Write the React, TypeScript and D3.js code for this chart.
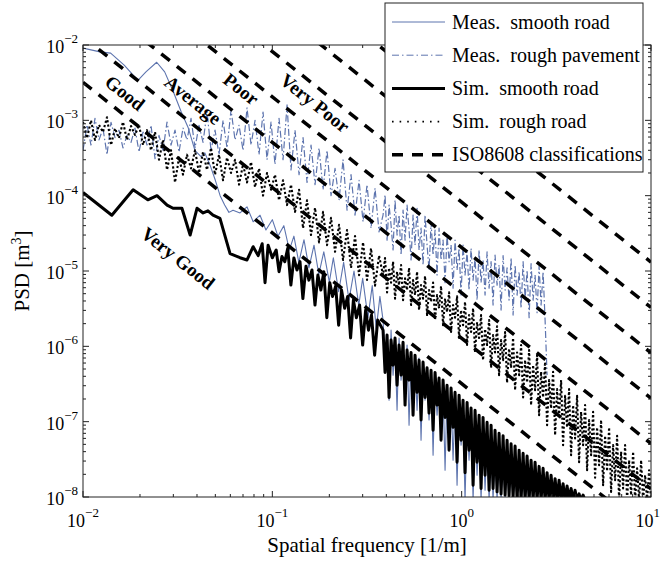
import React from 'react';
import * as d3 from 'd3';

// ---------- data ----------
const xDomain: [number, number] = [0.01, 10];
const yDomain: [number, number] = [1e-8, 1e-2];
const xTickExps = [-2, -1, 0, 1];
const yTickExps = [-8, -7, -6, -5, -4, -3, -2];

// spatial-frequency grid (1/m), low range 0.01 .. 0.37
const lowGridFreq = [
  0.01, 0.0105, 0.01102, 0.01157, 0.01215, 0.01275, 0.01339, 0.01406, 0.01476, 0.01549,
  0.01626, 0.01708, 0.01793, 0.01882, 0.01976, 0.02075, 0.02178, 0.02287, 0.02401, 0.0252,
  0.02646, 0.02778, 0.02917, 0.03062, 0.03215, 0.03375, 0.03543, 0.0372, 0.03906, 0.041,
  0.04305, 0.04519, 0.04745, 0.04981, 0.0523, 0.05491, 0.05764, 0.06052, 0.06353, 0.0667,
  0.07003, 0.07352, 0.07718, 0.08103, 0.08507, 0.08931, 0.09376, 0.09844, 0.1033, 0.1085,
  0.1139, 0.1196, 0.1255, 0.1318, 0.1384, 0.1453, 0.1525, 0.1601, 0.1681, 0.1765,
  0.1853, 0.1945, 0.2042, 0.2144, 0.2251, 0.2363, 0.2481, 0.2604, 0.2734, 0.2871,
  0.3014, 0.3164, 0.3322, 0.3487, 0.3661,
];
// spatial-frequency grid (1/m), high range 0.38 .. 10
const highGridFreq = [
  0.3844, 0.3939, 0.4036, 0.4136, 0.4237, 0.4342, 0.4448, 0.4558, 0.467, 0.4785,
  0.4903, 0.5024, 0.5147, 0.5274, 0.5404, 0.5537, 0.5673, 0.5813, 0.5956, 0.6102,
  0.6253, 0.6407, 0.6565, 0.6726, 0.6892, 0.7063, 0.7235, 0.7414, 0.7596, 0.7783,
  0.7975, 0.8172, 0.8372, 0.858, 0.879, 0.9007, 0.9228, 0.9456, 0.9689, 0.9929,
  1.017, 1.042, 1.068, 1.094, 1.121, 1.149, 1.177, 1.206, 1.236, 1.266,
  1.297, 1.329, 1.362, 1.396, 1.43, 1.465, 1.501, 1.538, 1.576, 1.615,
  1.655, 1.696, 1.737, 1.78, 1.824, 1.869, 1.915, 1.962, 2.011, 2.06,
  2.111, 2.163, 2.216, 2.271, 2.326, 2.384, 2.442, 2.502, 2.564, 2.627,
  2.692, 2.758, 2.826, 2.895, 2.967, 3.04, 3.115, 3.192, 3.27, 3.351,
  3.433, 3.518, 3.604, 3.693, 3.784, 3.877, 3.972, 4.07, 4.17, 4.273,
  4.378, 4.486, 4.597, 4.71, 4.826, 4.945, 5.067, 5.191, 5.319, 5.45,
  5.585, 5.722, 5.863, 6.007, 6.155, 6.307, 6.462, 6.622, 6.784, 6.951,
  7.123, 7.298, 7.478, 7.662, 7.851, 8.044, 8.242, 8.445, 8.653, 8.866,
  9.085, 9.309, 9.539, 9.772, 10.0,
];

// Meas. rough pavement
const measRoughLowPsd = [
  4.0e-4, 8.7e-4, 4.7e-4, 1.06e-3, 5.5e-4, 7.8e-4, 3.5e-4, 9.4e-4, 5.9e-4, 7.4e-4,
  4.3e-4, 6.3e-4, 5.1e-4, 7.9e-4, 3.8e-4, 7.0e-4, 4.7e-4, 8.6e-4, 3.1e-4, 6.3e-4,
  4.0e-4, 9.5e-4, 4.7e-4, 7.4e-4, 3.8e-4, 7.9e-4, 5.5e-4, 1.06e-3, 4.3e-4, 8.6e-4,
  5.1e-4, 1.29e-3, 4.0e-4, 7.4e-4, 3.5e-4, 1.0e-3, 4.3e-4, 1.37e-3, 5.5e-4, 8.6e-4,
  4.0e-4, 1.46e-3, 4.7e-4, 1.0e-3, 3.5e-4, 1.29e-3, 3.0e-4, 9.5e-4, 2.6e-4, 1.06e-3,
  3.0e-4, 1.6e-3, 2.2e-4, 7.4e-4, 1.9e-4, 5.9e-4, 1.5e-4, 4.7e-4, 1.4e-4, 4.3e-4,
  1.2e-4, 4.0e-4, 1.0e-4, 2.3e-4, 8.7e-5, 3.0e-4, 6.4e-5, 1.9e-4, 5.5e-5, 1.6e-4,
  4.5e-5, 1.4e-4, 3.7e-5, 1.26e-4, 3.3e-5,
];
const measRoughHighPsd = [
  5.53e-5, 1.02e-4, 2.57e-5, 7.5e-5, 4.07e-5, 1.9e-5, 8.74e-5, 3.0e-5, 5.53e-5, 1.63e-5,
  6.44e-5, 2.57e-5, 7.5e-5, 3.49e-5, 1.4e-5, 5.53e-5, 2.21e-5, 6.8e-5, 1.9e-5, 3.7e-5,
  1.2e-5, 5.53e-5, 2.21e-5, 1.03e-5, 4.4e-5, 1.63e-5, 3.49e-5, 8.83e-6, 3.7e-5, 1.4e-5,
  2.57e-5, 7.0e-6, 3.0e-5, 1.33e-5, 2.21e-5, 5.9e-6, 2.57e-5, 1.03e-5, 2.0e-5, 4.79e-6,
  2.21e-5, 8.83e-6, 1.8e-5, 5.58e-6, 2.0e-5, 7.57e-6, 1.5e-5, 4.11e-6, 1.9e-5, 7.0e-6,
  1.4e-5, 4.79e-6, 1.8e-5, 5.9e-6, 1.33e-5, 3.53e-6, 1.63e-5, 6.5e-6, 1.2e-5, 3.03e-6,
  1.6e-5, 5.58e-6, 1.1e-5, 4.11e-6, 1.5e-5, 2.6e-6, 1.2e-5, 4.79e-6, 9.8e-6, 3.2e-6,
  1.33e-5, 4.3e-6, 1.03e-5, 2.4e-6, 1.25e-5, 4.11e-6, 8.83e-6, 2.8e-6, 1.16e-5, 3.53e-6,
  9.8e-6, 2.23e-6, 4.15e-7,
];

// Sim. rough road
const simRoughLowPsd = [
  9.5e-4, 5.8e-4, 1.0e-3, 5.5e-4, 8.7e-4, 7.0e-4, 1.1e-3, 4.7e-4, 7.8e-4, 5.8e-4,
  9.5e-4, 5.5e-4, 8.4e-4, 6.4e-4, 8.7e-4, 4.7e-4, 7.4e-4, 4.0e-4, 7.0e-4, 3.0e-4,
  5.5e-4, 2.2e-4, 4.0e-4, 1.5e-4, 3.2e-4, 1.9e-4, 3.5e-4, 2.3e-4, 4.0e-4, 2.0e-4,
  3.8e-4, 2.2e-4, 4.3e-4, 1.9e-4, 3.5e-4, 1.6e-4, 3.2e-4, 2.0e-4, 3.0e-4, 1.4e-4,
  2.6e-4, 1.5e-4, 2.8e-4, 1.3e-4, 2.3e-4, 1.0e-4, 2.0e-4, 1.2e-4, 1.9e-4, 8.7e-5,
  1.6e-4, 7.5e-5, 1.4e-4, 6.1e-5, 1.2e-4, 3.7e-5, 8.7e-5, 3.0e-5, 6.9e-5, 2.4e-5,
  6.1e-5, 2.2e-5, 5.1e-5, 1.8e-5, 4.1e-5, 1.4e-5, 3.5e-5, 1.1e-5, 2.9e-5, 8.8e-6,
  2.4e-5, 7.6e-6, 2.0e-5, 6.4e-6, 1.6e-5,
];
const simRoughHighPsd = [
  8.83e-6, 1.49e-5, 5.2e-6, 1.1e-5, 7.0e-6, 1.33e-5, 4.3e-6, 9.8e-6, 6.5e-6, 1.2e-5,
  4.11e-6, 8.0e-6, 5.58e-6, 1.1e-5, 3.53e-6, 7.57e-6, 4.79e-6, 9.8e-6, 3.03e-6, 6.5e-6,
  4.3e-6, 8.6e-6, 2.6e-6, 5.58e-6, 3.9e-6, 7.0e-6, 2.23e-6, 4.79e-6, 3.2e-6, 6.3e-6,
  1.91e-6, 4.3e-6, 2.85e-6, 5.2e-6, 1.55e-6, 3.53e-6, 2.4e-6, 4.6e-6, 1.29e-6, 3.03e-6,
  1.91e-6, 3.9e-6, 1.04e-6, 2.6e-6, 1.55e-6, 3.2e-6, 8.3e-7, 2.1e-6, 1.29e-6, 2.6e-6,
  6.56e-7, 1.7e-6, 1.04e-6, 2.23e-6, 5.2e-7, 1.41e-6, 8.3e-7, 1.85e-6, 4.15e-7, 1.21e-6,
  6.56e-7, 1.55e-6, 3.3e-7, 9.3e-7, 5.2e-7, 1.29e-6, 2.62e-7, 8.3e-7, 4.15e-7, 1.04e-6,
  2.1e-7, 6.56e-7, 3.3e-7, 8.9e-7, 1.66e-7, 5.63e-7, 2.62e-7, 7.64e-7, 1.22e-7, 4.6e-7,
  2.1e-7, 6.2e-7, 9.0e-8, 3.56e-7, 1.5e-7, 4.6e-7, 6.62e-8, 2.7e-7, 1.18e-7, 3.56e-7,
  4.88e-8, 2.2e-7, 8.4e-8, 2.7e-7, 3.59e-8, 1.66e-7, 6.0e-8, 2.2e-7, 2.9e-8, 1.35e-7,
  4.88e-8, 1.66e-7, 2.27e-8, 1.05e-7, 3.59e-8, 1.35e-7, 1.8e-8, 8.4e-8, 2.64e-8, 1.05e-7,
  1.43e-8, 6.5e-8, 2.2e-8, 8.4e-8, 1.17e-8, 4.88e-8, 1.67e-8, 6.5e-8, 9e-9, 4.0e-8,
  1.3e-8, 4.88e-8, 9e-9, 3.08e-8, 1.06e-8, 4.0e-8, 9e-9, 2.4e-8, 9e-9, 3.08e-8,
  9e-9, 1.95e-8, 9e-9, 2.27e-8, 9e-9,
];

// Meas. smooth road
const measSmoothFreq = [
  0.01, 0.0123, 0.014, 0.0165, 0.0195, 0.0215, 0.0245, 0.027, 0.03, 0.033,
  0.036, 0.039, 0.042, 0.044, 0.047, 0.05, 0.053, 0.056, 0.059, 0.062,
  0.0675, 0.0735, 0.0792, 0.0861, 0.0925, 0.1, 0.107, 0.115, 0.123, 0.13,
  0.138, 0.147, 0.156, 0.166, 0.176, 0.187, 0.2, 0.21, 0.224, 0.238,
  0.254, 0.27, 0.286, 0.3, 0.32, 0.337, 0.354, 0.37,
];
const measSmoothPsd = [
  9.1e-3, 8.1e-3, 7.8e-3, 5.4e-3, 3.4e-3, 4.4e-3, 5.9e-3, 4.4e-3, 2.4e-3, 1.3e-3,
  7.9e-4, 4.0e-4, 3.3e-4, 3.7e-4, 2.5e-4, 1.6e-4, 1.0e-4, 7.5e-5, 6.0e-5, 6.4e-5,
  5.9e-5, 7.1e-5, 4.5e-5, 5.5e-5, 3.5e-5, 4.8e-5, 2.9e-5, 4.0e-5, 1.9e-5, 2.9e-5,
  1.3e-5, 2.6e-5, 1.1e-5, 2.2e-5, 9.0e-6, 1.8e-5, 7.1e-6, 1.5e-5, 5.3e-6, 1.3e-5,
  4.1e-6, 1.0e-5, 3.5e-6, 8.0e-6, 2.4e-6, 6.4e-6, 1.7e-6, 4.6e-6,
];
const measSmoothHighPsd = [
  2.23e-6, 6.56e-7, 1.41e-6, 1.93e-7, 1.64e-6, 4.15e-7, 1.04e-6, 1.42e-7, 1.29e-6, 3.56e-7,
  8.91e-7, 2.25e-7, 1.04e-6, 8.99e-8, 7.64e-7, 2.62e-7, 6.2e-7, 1.42e-7, 7.0e-7, 5.68e-8,
  5.63e-7, 1.93e-7, 4.5e-7, 1.05e-7, 4.83e-7, 3.59e-8, 3.56e-7, 1.22e-7, 3.05e-7, 5.68e-8,
  2.8e-7, 2.27e-8, 2.45e-7, 7.71e-8, 2.1e-7, 3.08e-8, 1.8e-7, 1.43e-8, 1.52e-7, 4.88e-8,
  1.3e-7, 9e-9, 1.14e-7, 3.08e-8, 1.05e-7, 9e-9, 8.99e-8, 1.95e-8, 7.71e-8, 9e-9,
  6.62e-8, 1.23e-8, 5.68e-8, 9e-9, 4.88e-8, 9e-9, 4.5e-8, 9e-9, 4.0e-8, 9e-9,
  3.5e-8, 9e-9, 3.08e-8, 9e-9, 2.64e-8, 9e-9, 2.4e-8, 9e-9, 2.1e-8, 9e-9,
  1.9e-8, 9e-9, 1.67e-8, 9e-9, 1.43e-8,
];

// Sim. smooth road
const simSmoothFreq = [
  0.01, 0.0142, 0.0184, 0.022, 0.0246, 0.0278, 0.0299, 0.0333, 0.0368, 0.04,
  0.0431, 0.0457, 0.0486, 0.0529, 0.0598, 0.0675, 0.0735, 0.0792, 0.0842, 0.0884,
  0.0915, 0.095, 0.1,
  0.1048, 0.1085, 0.1124, 0.1164, 0.1206, 0.1253, 0.13, 0.135, 0.14, 0.145,
  0.1506, 0.156, 0.162, 0.168, 0.174, 0.1805, 0.187, 0.194, 0.201, 0.208,
  0.216, 0.224, 0.232, 0.241, 0.25, 0.259, 0.268, 0.278, 0.289, 0.3,
  0.311, 0.322, 0.334, 0.347, 0.36,
];
const simSmoothPsd = [
  1.1e-4, 5.5e-5, 1.2e-4, 8.8e-5, 1.0e-4, 7.5e-5, 6.8e-5, 6.8e-5, 3.0e-5, 6.8e-5,
  5.9e-5, 6.3e-5, 5.5e-5, 5.0e-5, 1.7e-5, 1.5e-5, 1.4e-5, 2.1e-5, 1.6e-5, 2.3e-5,
  7.0e-6, 2.2e-5, 1.5e-5,
  1.9e-5, 9.8e-6, 1.56e-5, 1.33e-5, 2.0e-5, 6.5e-6, 1.49e-5, 1.03e-5, 1.33e-5, 4.3e-6,
  1.16e-5, 7.57e-6, 1.03e-5, 3.53e-6, 8.83e-6, 5.58e-6, 9.8e-6, 2.4e-6, 7.0e-6, 4.6e-6,
  6.3e-6, 1.91e-6, 5.58e-6, 3.2e-6, 4.6e-6, 1.29e-6, 4.11e-6, 2.4e-6, 3.53e-6, 1.04e-6,
  3.03e-6, 1.64e-6, 2.6e-6, 7.64e-7, 2.23e-6,
];
const simSmoothHighPsd = [
  1.64e-6, 4.5e-7, 1.41e-6, 2.1e-7, 1.21e-6, 5.63e-7, 1.29e-6, 3.05e-7, 1.04e-6, 4.15e-7,
  1.13e-6, 1.66e-7, 8.91e-7, 3.56e-7, 8.3e-7, 1.22e-7, 7.64e-7, 2.45e-7, 6.56e-7, 1.05e-7,
  6.2e-7, 2.1e-7, 5.2e-7, 1.3e-7, 4.83e-7, 7.71e-8, 4.5e-7, 1.66e-7, 3.8e-7, 5.68e-8,
  3.56e-7, 1.14e-7, 3.05e-7, 4.19e-8, 2.8e-7, 8.4e-8, 2.45e-7, 2.9e-8, 2.25e-7, 5.68e-8,
  1.93e-7, 2.1e-8, 1.8e-7, 4.19e-8, 1.52e-7, 1.43e-8, 1.42e-7, 2.9e-8, 1.22e-7, 1.3e-8,
  1.14e-7, 1.95e-8, 9.8e-8, 1.23e-8, 8.99e-8, 1.3e-8, 7.71e-8, 1.17e-8, 7.0e-8, 1.1e-8,
  6.5e-8, 1.06e-8, 5.68e-8, 1.04e-8, 5.1e-8, 9.6e-9, 4.75e-8, 9e-9, 4.19e-8, 9e-9,
  3.8e-8, 9e-9, 3.5e-8, 9e-9, 3.08e-8, 9e-9, 2.9e-8, 9e-9, 2.55e-8, 9e-9,
  2.4e-8, 9e-9, 2.1e-8, 9e-9, 1.95e-8, 9e-9, 1.75e-8, 9e-9, 1.67e-8, 9e-9,
  1.5e-8, 9e-9, 1.4e-8, 9e-9, 1.3e-8, 9e-9, 1.23e-8, 9e-9, 1.1e-8, 9e-9,
  1.06e-8, 9e-9,
];

// ISO 8608 class boundaries: Gd(n0) at n0 = 0.1 1/m, waviness 2
const isoRefFreq = 0.1;
const isoWaviness = 2;
const isoBoundaries = [32e-6, 128e-6, 512e-6, 2048e-6, 8192e-6, 32768e-6, 131072e-6];

const classLabels = ['Very Good', 'Good', 'Average', 'Poor', 'Very Poor'];
const classLabelFreq = [0.0318, 0.01667, 0.0381, 0.0684, 0.168];
const classLabelPsd = [1.48e-5, 2.31e-3, 1.86e-3, 2.61e-3, 1.7e-3];

const legendLabels = [
  'Meas.\u00A0 smooth road',
  'Meas.\u00A0 rough pavement',
  'Sim.\u00A0 smooth road',
  'Sim.\u00A0 rough road',
  'ISO8608 classifications',
];

const xTitle = 'Spatial frequency [1/m]';

// ---------- component ----------
const W = 661;
const H = 561;
const PL = 83, PR = 651, PT = 45, PB = 497;
const FONT = "'Liberation Serif', 'Times New Roman', serif";
const BLUE = '#5d74ae';

const styles = [
  { stroke: BLUE, width: 1.1, dash: undefined as string | undefined, legendDash: undefined as string | undefined },
  { stroke: BLUE, width: 1.2, dash: '7,2.5,1.5,2.5', legendDash: '7,3,1.5,3' },
  { stroke: '#000', width: 3, dash: undefined as string | undefined, legendDash: undefined as string | undefined },
  { stroke: '#000', width: 2.1, dash: '2.2,2.2', legendDash: '1.6,6' },
  { stroke: '#000', width: 3.5, dash: '11,9', legendDash: '11,9' },
];

export default function App() {
  const x = d3.scaleLog().domain(xDomain).range([PL, PR]);
  const y = d3.scaleLog().domain(yDomain).range([PB, PT]);
  const line = d3
    .line<[number, number]>()
    .x((d) => x(d[0]))
    .y((d) => y(d[1]));

  const zip = (f: number[], v: number[]): [number, number][] => {
    const n = Math.min(f.length, v.length);
    const out: [number, number][] = [];
    for (let i = 0; i < n; i++) out.push([f[i], v[i]]);
    return out;
  };

  const series = [
    [...zip(measSmoothFreq, measSmoothPsd), ...zip(highGridFreq, measSmoothHighPsd)],
    [...zip(lowGridFreq, measRoughLowPsd), ...zip(highGridFreq, measRoughHighPsd)],
    [...zip(simSmoothFreq, simSmoothPsd), ...zip(highGridFreq, simSmoothHighPsd)],
    [...zip(lowGridFreq, simRoughLowPsd), ...zip(highGridFreq, simRoughHighPsd)],
  ];

  const isoLine = (g0: number): [number, number][] =>
    xDomain.map((n) => [n, g0 * Math.pow(n / isoRefFreq, -isoWaviness)] as [number, number]);

  const a0 = isoLine(1e-4);
  const ang =
    (Math.atan2(y(a0[1][1]) - y(a0[0][1]), x(a0[1][0]) - x(a0[0][0])) * 180) / Math.PI;

  const xt = x.ticks();
  const yt = y.ticks();
  const isMajor = (t: number) => Math.abs(Math.log10(t) - Math.round(Math.log10(t))) < 1e-6;

  const legendX0 = 385, legendY0 = 3, legendW = 258, legendH = 169;
  const rowY = (i: number) => 22 + i * 33.2;

  return (
    <svg
      width={W}
      height={H}
      style={{ position: 'absolute', left: 0, top: 0, background: '#fff' }}
      fontFamily={FONT}
    >
      <defs>
        <clipPath id="plotClip">
          <rect x={PL} y={PT} width={PR - PL} height={PB - PT} />
        </clipPath>
      </defs>
      <rect x={0} y={0} width={W} height={H} fill="#fff" />

      <g clipPath="url(#plotClip)">
        {series.map((s, i) => (
          <path
            key={i}
            d={line(s) || ''}
            fill="none"
            stroke={styles[i].stroke}
            strokeWidth={styles[i].width}
            strokeDasharray={styles[i].dash}
            strokeLinejoin="round"
          />
        ))}
        {isoBoundaries.map((g, i) => (
          <path
            key={'iso' + i}
            d={line(isoLine(g)) || ''}
            fill="none"
            stroke="#000"
            strokeWidth={styles[4].width}
            strokeDasharray={styles[4].dash}
          />
        ))}
      </g>

      {classLabels.map((t, i) => {
        const cx = x(classLabelFreq[i]);
        const cy = y(classLabelPsd[i]);
        return (
          <text
            key={t}
            transform={`translate(${cx},${cy}) rotate(${ang})`}
            textAnchor="middle"
            dominantBaseline="central"
            fontWeight="bold"
            fontSize={19}
            fill="#000"
          >
            {t}
          </text>
        );
      })}

      <g stroke="#222" strokeWidth={1}>
        {xt.map((t, i) => {
          const L = isMajor(t) ? 6 : 3;
          const px = x(t);
          return (
            <g key={'xt' + i}>
              <line x1={px} x2={px} y1={PB} y2={PB - L} />
              <line x1={px} x2={px} y1={PT} y2={PT + L} />
            </g>
          );
        })}
        {yt.map((t, i) => {
          const L = isMajor(t) ? 6 : 3;
          const py = y(t);
          return (
            <g key={'yt' + i}>
              <line x1={PL} x2={PL + L} y1={py} y2={py} />
              <line x1={PR} x2={PR - L} y1={py} y2={py} />
            </g>
          );
        })}
      </g>
      <rect x={PL} y={PT} width={PR - PL} height={PB - PT} fill="none" stroke="#222" strokeWidth={1} />

      {xTickExps.map((e, i) => {
        const last = i === xTickExps.length - 1;
        return (
          <text
            key={'xl' + e}
            x={last ? W - 1 : x(Math.pow(10, e))}
            y={527}
            textAnchor={last ? 'end' : 'middle'}
            fontSize={18}
            fill="#000"
          >
            <tspan>10</tspan>
            <tspan dy={-10} fontSize={13}>
              {e < 0 ? '\u2212' + Math.abs(e) : String(e)}
            </tspan>
          </text>
        );
      })}
      {yTickExps.map((e) => (
        <text key={'yl' + e} x={78} y={y(Math.pow(10, e)) + 8} textAnchor="end" fontSize={18} fill="#000">
          <tspan>10</tspan>
          <tspan dy={-10} fontSize={13}>
            {e < 0 ? '\u2212' + Math.abs(e) : String(e)}
          </tspan>
        </text>
      ))}

      <text x={(PL + PR) / 2} y={552} textAnchor="middle" fontSize={21} fill="#000">
        {xTitle}
      </text>
      <text transform={`translate(29,${(PT + PB) / 2}) rotate(-90)`} textAnchor="middle" fontSize={21} fill="#000">
        <tspan>PSD [m</tspan>
        <tspan dy={-8} fontSize={14}>3</tspan>
        <tspan dy={8}>]</tspan>
      </text>

      <rect x={legendX0} y={legendY0} width={legendW} height={legendH} fill="#fff" stroke="#222" strokeWidth={1} />
      {legendLabels.map((t, i) => (
        <g key={'lg' + i}>
          <line
            x1={392}
            x2={445}
            y1={rowY(i)}
            y2={rowY(i)}
            stroke={styles[i].stroke}
            strokeWidth={i === 3 ? 1.6 : i < 2 ? 1 : styles[i].width}
            strokeDasharray={styles[i].legendDash}
          />
          <text x={452} y={rowY(i) + 6.5} fontSize={20} fill="#000">
            {t}
          </text>
        </g>
      ))}
    </svg>
  );
}
